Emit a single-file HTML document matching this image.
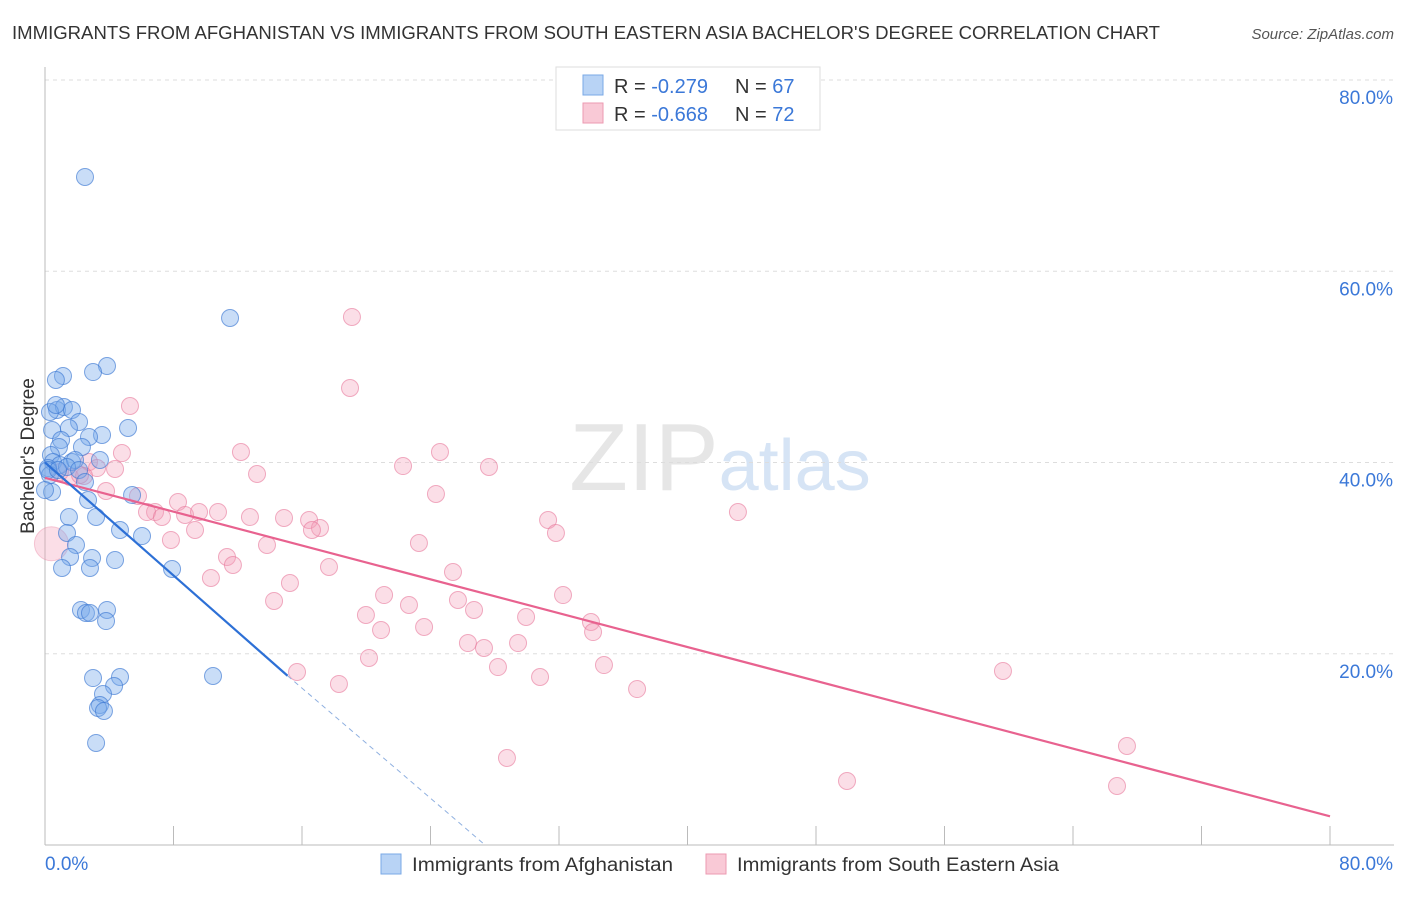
<!DOCTYPE html>
<html><head><meta charset="utf-8"><style>
body{margin:0;background:#fff;font-family:"Liberation Sans",sans-serif;}
svg text{font-family:"Liberation Sans",sans-serif;}
</style></head><body>
<svg id="c" width="1406" height="892" xmlns="http://www.w3.org/2000/svg">
<text x="12" y="39" font-size="18" fill="#333" textLength="1148" lengthAdjust="spacingAndGlyphs">IMMIGRANTS FROM AFGHANISTAN VS IMMIGRANTS FROM SOUTH EASTERN ASIA BACHELOR'S DEGREE CORRELATION CHART</text>
<text x="1394" y="39" font-size="15" fill="#555" font-style="italic" text-anchor="end">Source: ZipAtlas.com</text>
<text x="720" y="490" font-size="96" fill="#e6e6e6" text-anchor="middle" font-family="Liberation Serif">ZIP<tspan fill="#d6e4f5" font-family="Liberation Sans" font-size="72">atlas</tspan></text>
<text transform="translate(34,456) rotate(-90)" font-size="19" fill="#333" text-anchor="middle">Bachelor's Degree</text>
<g id="grid"></g><g id="pts"></g><g id="lines"></g>
<g>
<rect x="556" y="67" width="264" height="63" fill="#fff" stroke="#ddd"/>
<rect x="583" y="75" width="20" height="20" fill="#b8d3f5" stroke="#7aa8e6"/>
<rect x="583" y="103" width="20" height="20" fill="#f9c9d6" stroke="#ec9ab1"/>
<text x="614" y="93" font-size="20" fill="#333">R = <tspan fill="#3b78d8">-0.279</tspan></text>
<text x="735" y="93" font-size="20" fill="#333">N = <tspan fill="#3b78d8">67</tspan></text>
<text x="614" y="121" font-size="20" fill="#333">R = <tspan fill="#3b78d8">-0.668</tspan></text>
<text x="735" y="121" font-size="20" fill="#333">N = <tspan fill="#3b78d8">72</tspan></text>
</g>
<g>
<rect x="381" y="854" width="20" height="20" fill="#b8d3f5" stroke="#7aa8e6"/>
<text x="412" y="871" font-size="19" fill="#333" textLength="261" lengthAdjust="spacingAndGlyphs">Immigrants from Afghanistan</text>
<rect x="706" y="854" width="20" height="20" fill="#f9c9d6" stroke="#ec9ab1"/>
<text x="737" y="871" font-size="19" fill="#333" textLength="322" lengthAdjust="spacingAndGlyphs">Immigrants from South Eastern Asia</text>
</g>
</svg>
<script>
const yTicks=[20,40,60,80];
const xTickLabels=["0.0%","80.0%"];
const bluePx=[[85,177],[230,318],[107,366],[93,372],[63,376],[56,380],[57,410],[64,407],[72,410],[50,412],[79,422],[52,430],[69,428],[128,428],[102,435],[89,437],[61,440],[59,447],[82,447],[51,455],[53,462],[72,462],[60,465],[48,468],[75,460],[67,467],[79,470],[50,475],[85,482],[52,492],[132,495],[88,500],[96,517],[69,517],[67,533],[120,530],[142,536],[76,545],[70,557],[92,558],[115,560],[62,568],[90,568],[172,569],[81,610],[107,610],[86,613],[90,613],[106,621],[93,678],[120,677],[114,686],[103,694],[100,705],[98,708],[104,711],[213,676],[96,743],[56,405],[100,460],[45,490],[48,470],[58,470]];
const pinkPx=[[352,317],[350,388],[130,406],[241,452],[440,452],[403,466],[489,467],[122,453],[89,462],[115,469],[257,474],[436,494],[106,491],[138,496],[178,502],[155,512],[218,512],[250,517],[284,518],[309,520],[147,512],[185,515],[199,512],[162,517],[320,528],[312,530],[548,520],[556,533],[738,512],[195,530],[171,540],[267,545],[419,543],[227,557],[233,565],[329,567],[453,572],[211,578],[290,583],[384,595],[563,595],[458,600],[274,601],[409,605],[474,610],[366,615],[526,617],[591,622],[593,632],[381,630],[424,627],[468,643],[484,648],[518,643],[498,667],[604,665],[369,658],[297,672],[540,677],[637,689],[339,684],[1003,671],[507,758],[1127,746],[847,781],[1117,786],[97,468],[70,477],[60,472],[84,476],[80,475]];
const blueX=bluePx.map(p=>+((p[0]-45)/16.0625).toFixed(2));
const blueY=bluePx.map(p=>+((845-p[1])/9.5625).toFixed(2));
const pinkX=pinkPx.map(p=>+((p[0]-45)/16.0625).toFixed(2));
const pinkY=pinkPx.map(p=>+((845-p[1])/9.5625).toFixed(2));
const bigPink=[0.4,31.5];
const blueLine=[[0,40.0],[15.1,17.7]];
const blueDash=[[15.1,17.7],[27.4,0]];
const pinkLine=[[0,38.4],[80,3.0]];
const NS="http://www.w3.org/2000/svg";
const X=v=>45+v*16.0625, Y=v=>845-v*9.5625;
function mk(t,a,parent){const e=document.createElementNS(NS,t);for(const k in a)e.setAttribute(k,a[k]);parent.appendChild(e);return e;}
const grid=document.getElementById('grid');
yTicks.forEach(t=>{
 const l=mk('line',{x1:45,x2:1394,y1:Y(t),y2:Y(t),stroke:'#ddd','stroke-dasharray':'4 4'},grid);
 
 
 const tx=mk('text',{x:1393,y:Y(t)+24,'font-size':19,fill:'#3b78d8','text-anchor':'end'},grid);tx.textContent=t.toFixed(1)+'%';
 
 
});
const ax=mk('line',{x1:45,x2:45,y1:67,y2:845,stroke:'#bbb'},grid);


const bx=mk('line',{x1:45,x2:1394,y1:845,y2:845,stroke:'#bbb'},grid);


for(let i=0;i<=10;i++){const t=mk('line',{x1:X(i*8),x2:X(i*8),y1:826,y2:845,stroke:'#bbb'},grid);
 
 }
[[0,45,'start'],[80,1393,'end']].forEach((d,i)=>{const t=mk('text',{x:d[1],y:870,'font-size':19,fill:'#3b78d8','text-anchor':d[2]},grid);t.textContent=xTickLabels[i];
 
 });
const pts=document.getElementById('pts');
const bp=mk('circle',{cx:X(bigPink[0]),cy:Y(bigPink[1]),r:17,fill:'rgba(244,160,186,0.35)',stroke:'rgba(232,130,160,0.4)'},pts);


pinkX.forEach((x,i)=>{const c=mk('circle',{cx:X(x),cy:Y(pinkY[i]),r:8.5,fill:'rgba(244,160,186,0.35)',stroke:'rgba(232,120,155,0.6)'},pts);
 
 });
blueX.forEach((x,i)=>{const c=mk('circle',{cx:X(x),cy:Y(blueY[i]),r:8.5,fill:'rgba(120,170,235,0.4)',stroke:'rgba(60,120,210,0.65)'},pts);
 
 });
const lines=document.getElementById('lines');
const pl=mk('line',{x1:X(pinkLine[0][0]),y1:Y(pinkLine[0][1]),x2:X(pinkLine[1][0]),y2:Y(pinkLine[1][1]),stroke:'#e8628f','stroke-width':2.2},lines);


const bl=mk('line',{x1:X(blueLine[0][0]),y1:Y(blueLine[0][1]),x2:X(blueLine[1][0]),y2:Y(blueLine[1][1]),stroke:'#2d70d6','stroke-width':2.2},lines);


const bd=mk('line',{x1:X(blueDash[0][0]),y1:Y(blueDash[0][1]),x2:X(blueDash[1][0]),y2:Y(blueDash[1][1]),stroke:'#8fb0e0','stroke-width':1,'stroke-dasharray':'5 4'},lines);


</script>
</body></html>
